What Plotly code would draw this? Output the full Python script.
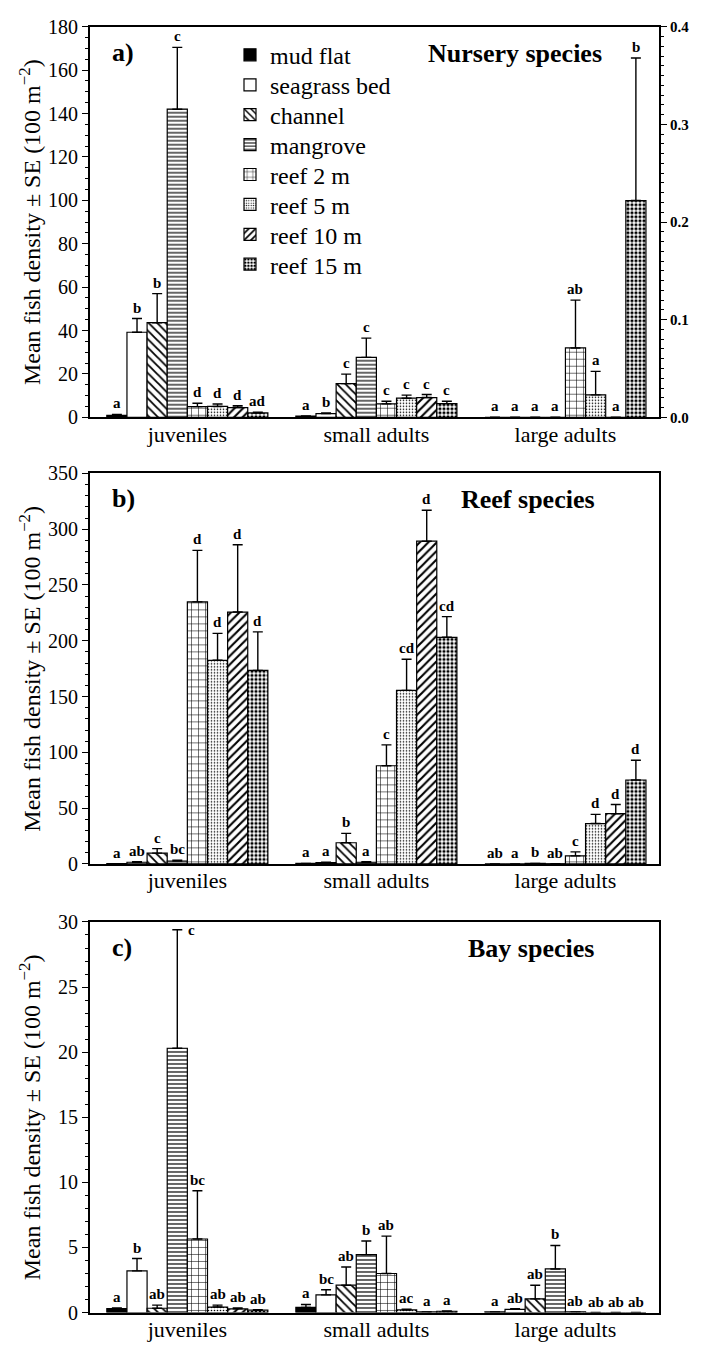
import plotly.graph_objects as go

HABITATS = ["mud flat", "seagrass bed", "channel", "mangrove",
            "reef 2 m", "reef 5 m", "reef 10 m", "reef 15 m"]
STAGES = ["juveniles", "small adults", "large adults"]

# ---- a) Nursery species (large adults on right axis) ----
nursery_juv_mean = [0.9, 39.2, 43.6, 142.0, 4.9, 5.0, 4.5, 2.0]
nursery_juv_se = [0.4, 6.3, 13.4, 28.5, 1.6, 1.1, 0.8, 0.4]
nursery_juv_let = ["a", "b", "b", "c", "d", "d", "d", "ad"]
nursery_small_mean = [0.5, 1.7, 15.5, 27.6, 6.2, 8.8, 9.1, 6.3]
nursery_small_se = [0.1, 0.3, 4.4, 8.9, 1.2, 1.4, 1.4, 1.1]
nursery_small_let = ["a", "b", "c", "c", "c", "c", "c", "c"]
nursery_large_mean = [0, 0, 0, 0, 0.071, 0.023, 0, 0.222]
nursery_large_se = [0, 0, 0, 0, 0.049, 0.024, 0, 0.146]
nursery_large_let = ["a", "a", "a", "a", "ab", "a", "a", "b"]

# ---- b) Reef species ----
reef_juv_mean = [0.3, 1.5, 9.7, 2.5, 234.8, 182.5, 225.7, 173.4]
reef_juv_se = [0, 0.5, 4.0, 0.8, 46.2, 24.1, 60.3, 34.6]
reef_juv_let = ["a", "ab", "c", "bc", "d", "d", "d", "d"]
reef_small_mean = [0.5, 1.2, 19.0, 1.5, 88.0, 155.5, 289.2, 203.1]
reef_small_se = [0, 0.3, 8.4, 0.4, 18.7, 27.9, 27.7, 18.5]
reef_small_let = ["a", "a", "b", "a", "c", "cd", "d", "cd"]
reef_large_mean = [0, 0, 0.5, 0.2, 7.2, 36.2, 45.0, 75.2]
reef_large_se = [0, 0, 0, 0, 3.6, 8.2, 8.2, 17.7]
reef_large_let = ["ab", "a", "b", "ab", "c", "d", "d", "d"]

# ---- c) Bay species ----
bay_juv_mean = [0.3, 3.2, 0.33, 20.3, 5.65, 0.42, 0.28, 0.18]
bay_juv_se = [0.05, 0.95, 0.24, 9.1, 3.7, 0.15, 0.07, 0.03]
bay_juv_let = ["a", "b", "ab", "c", "bc", "ab", "ab", "ab"]
bay_small_mean = [0.4, 1.36, 2.1, 4.45, 3.0, 0.2, 0.05, 0.1]
bay_small_se = [0.22, 0.39, 1.4, 1.05, 2.87, 0.05, 0, 0.03]
bay_small_let = ["a", "bc", "ab", "b", "ab", "ac", "a", "a"]
bay_large_mean = [0.05, 0.25, 1.05, 3.35, 0.05, 0, 0, 0]
bay_large_se = [0, 0.05, 1.05, 1.8, 0, 0, 0, 0]
bay_large_let = ["a", "ab", "ab", "b", "ab", "ab", "ab", "ab"]

PANEL_TITLES = ["Nursery species", "Reef species", "Bay species"]
PANEL_TAGS = ["a)", "b)", "c)"]
YTITLE = "Mean fish density ± SE (100 m<sup>−2</sup>)"

FONT = "Liberation Serif, Times New Roman, serif"
H = 1356

# bar pattern styles per habitat
STYLES = [
    dict(color="black", pattern=None),
    dict(color="white", pattern=None),
    dict(color="white", pattern=dict(shape="\\", size=6, solidity=0.3)),
    dict(color="white", pattern=dict(shape="-", size=4, solidity=0.3)),
    dict(color="white", pattern=dict(shape="+", size=7, solidity=0.15)),
    dict(color="white", pattern=dict(shape=".", size=3, solidity=0.22)),
    dict(color="white", pattern=dict(shape="/", size=6, solidity=0.35)),
    dict(color="white", pattern=dict(shape=".", size=4, solidity=0.5)),
]

GROUP = 0.852
BW = GROUP / len(HABITATS)

XDOM = [90 / 708, 659 / 708]
YDOMS = [[1 - 413 / H, 1 - 16 / H], [1 - 867 / H, 1 - 470 / H], [1 - 1323 / H, 1 - 926 / H]]
YRANGES = [[0, 180], [0, 350], [0, 30]]
YDT = [20, 50, 5]
YMINOR = [5, 10, 1]

fig = go.Figure()
annotations = []

panels = [
    [(nursery_juv_mean, nursery_juv_se, nursery_juv_let),
     (nursery_small_mean, nursery_small_se, nursery_small_let),
     (nursery_large_mean, nursery_large_se, nursery_large_let)],
    [(reef_juv_mean, reef_juv_se, reef_juv_let),
     (reef_small_mean, reef_small_se, reef_small_let),
     (reef_large_mean, reef_large_se, reef_large_let)],
    [(bay_juv_mean, bay_juv_se, bay_juv_let),
     (bay_small_mean, bay_small_se, bay_small_let),
     (bay_large_mean, bay_large_se, bay_large_let)],
]

LETFONT = dict(family=FONT, size=15, color="black", weight="bold")


def legend_name(h):
    return "legend" if h == 0 else f"legend{h + 1}"


def add_bars(p, stage_ids, yname, showlegend, yrange, pxh):
    xname = "x" if p == 0 else f"x{p + 1}"
    for h, hab in enumerate(HABITATS):
        ys, es = [], []
        for s in range(3):
            if s in stage_ids:
                m, se, _ = panels[p][s]
                ys.append(m[h])
                es.append(se[h] if se[h] > 0 else None)
            else:
                ys.append(None)
                es.append(None)
        st = STYLES[h]
        marker = dict(color=st["color"], line=dict(color="black", width=1.2))
        if st["pattern"] is not None:
            marker["pattern"] = dict(fgcolor="black", bgcolor="white",
                                     fillmode="replace", **st["pattern"])
        off = -GROUP / 2 + h * BW
        fig.add_trace(go.Bar(
            x=list(range(3)), y=ys, name=hab, width=BW, offset=off,
            marker=marker, xaxis=xname, yaxis=yname,
            showlegend=showlegend, legendgroup=hab, legend=legend_name(h),
            error_y=dict(type="data", symmetric=False, array=es,
                         arrayminus=[0, 0, 0], color="black",
                         thickness=1.4, width=5),
            hoverinfo="skip",
        ))
        # significance letters
        for s in stage_ids:
            m, se, let = panels[p][s]
            top = m[h] + se[h]
            xc = s + off + BW / 2
            room = (yrange[1] - top) / (yrange[1] - yrange[0]) * pxh
            if room < 18:
                annotations.append(dict(x=xc, y=top, xref=xname, yref=yname,
                                        text=let[h], showarrow=False, xanchor="left",
                                        yanchor="middle", xshift=9, font=LETFONT))
            else:
                annotations.append(dict(x=xc, y=top, xref=xname, yref=yname,
                                        text=let[h], showarrow=False, xanchor="center",
                                        yanchor="bottom", yshift=1, font=LETFONT))


PXH = 397
add_bars(0, [0, 1], "y", True, YRANGES[0], PXH)
add_bars(0, [2], "y4", False, [0, 0.4], PXH)
add_bars(1, [0, 1, 2], "y2", False, YRANGES[1], PXH)
add_bars(2, [0, 1, 2], "y3", False, YRANGES[2], PXH)

layout = dict(
    width=708, height=H, margin=dict(l=0, r=0, t=0, b=0),
    paper_bgcolor="white", plot_bgcolor="white",
    barmode="overlay",
    font=dict(family=FONT, color="black"),
)

# one legend box per habitat so the rows sit at the reference spacing
for h in range(len(HABITATS)):
    layout[legend_name(h)] = dict(
        x=230 / 708, y=1 - (45 + 30.4 * h) / H, xanchor="left", yanchor="middle",
        font=dict(family=FONT, size=24, color="black"),
        bgcolor="rgba(0,0,0,0)", borderwidth=0)

for p in range(3):
    xk = "xaxis" if p == 0 else f"xaxis{p + 1}"
    yk = "yaxis" if p == 0 else f"yaxis{p + 1}"
    yref = "y" if p == 0 else f"y{p + 1}"
    layout[xk] = dict(domain=XDOM, range=[-0.515, 2.495], anchor=yref,
                      tickvals=[0, 1, 2], ticktext=STAGES, ticks="",
                      showline=True, linewidth=2, linecolor="black", mirror=True,
                      showgrid=False, zeroline=False, ticklabelstandoff=-4,
                      tickfont=dict(family=FONT, size=22, color="black"))
    layout[yk] = dict(domain=YDOMS[p], range=YRANGES[p], dtick=YDT[p],
                      anchor="x" if p == 0 else f"x{p + 1}",
                      ticks="outside", ticklen=6, tickwidth=1.2, tickcolor="black",
                      minor=dict(dtick=YMINOR[p], ticks="outside", ticklen=3,
                                 tickwidth=1, tickcolor="black"),
                      showline=True, linewidth=2, linecolor="black", mirror=True,
                      showgrid=False, zeroline=False,
                      tickfont=dict(family=FONT, size=20, color="black"))
    ymid = (YDOMS[p][0] + YDOMS[p][1]) / 2
    annotations.append(dict(x=30 / 708, y=ymid, xref="paper", yref="paper",
                            text=YTITLE, textangle=-90, showarrow=False,
                            xanchor="center", yanchor="middle",
                            font=dict(family=FONT, size=24, color="black")))
    annotations.append(dict(x=110 / 708, y=YDOMS[p][1] - 26 / H, xref="paper", yref="paper",
                            text=PANEL_TAGS[p], showarrow=False,
                            xanchor="left", yanchor="middle",
                            font=dict(family=FONT, size=26, color="black", weight="bold")))
    tx = [515, 528, 531][p]
    annotations.append(dict(x=tx / 708, y=YDOMS[p][1] - 27 / H, xref="paper", yref="paper",
                            text=PANEL_TITLES[p], showarrow=False,
                            xanchor="center", yanchor="middle",
                            font=dict(family=FONT, size=26, color="black", weight="bold")))

layout["yaxis4"] = dict(overlaying="y", side="right", anchor="x", range=[0, 0.4],
                        dtick=0.1, tickformat=".1f",
                        ticks="outside", ticklen=6, tickwidth=1.2, tickcolor="black",
                        minor=dict(dtick=0.01, ticks="outside", ticklen=3,
                                   tickwidth=1, tickcolor="black"),
                        showline=True, linewidth=2, linecolor="black",
                        showgrid=False, zeroline=False,
                        tickfont=dict(family=FONT, size=15, color="black", weight="bold"))
layout["annotations"] = annotations
fig.update_layout(**layout)

fig.write_html("out.html")
